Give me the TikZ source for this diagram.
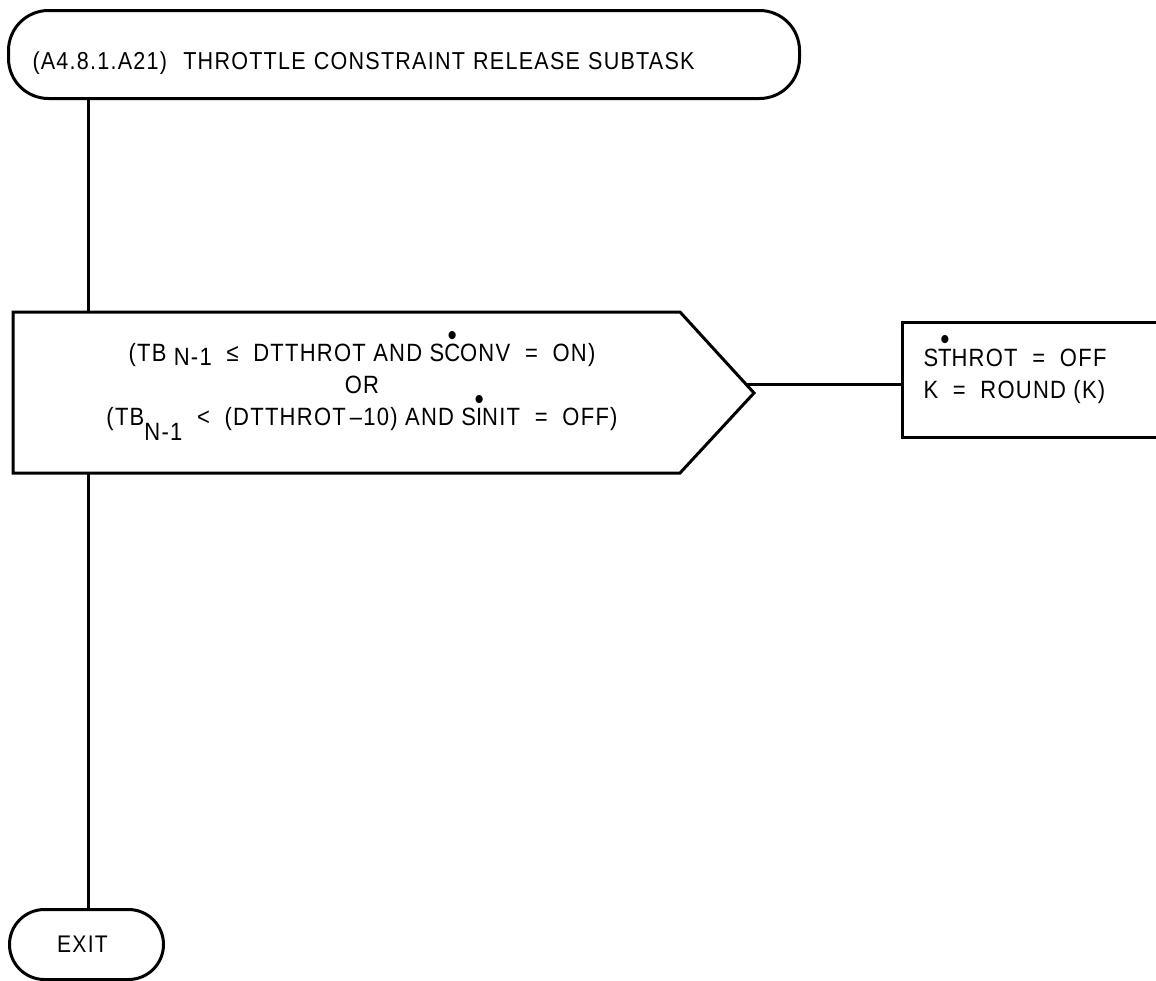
\documentclass[tikz,border=0pt]{standalone}
\usepackage{fontspec}
\setmainfont[LetterSpace=5, FakeStretch=0.88]{Liberation Sans}
\usetikzlibrary{calc, positioning}
\newcommand{\Sdot}[1]{%
    % #1 : letter after the S, carries the rate dot
    S\ooalign{#1\cr\hidewidth\raisebox{16.5pt}{\fontsize{30}{30}\selectfont\textbullet}\hidewidth\cr}%
}

\begin{document}
\begin{tikzpicture}[
        x=1pt, y=-1pt,
        line width=3pt,
        line join=miter,
        font=\fontsize{25}{32}\selectfont,
        terminal/.style={draw, anchor=north west, align=left},
    ]

    \def\spine{88}
    \def\xact{902}
    \def\yacttop{322}
    \def\yactbot{437}

    \useasboundingbox (0,0) rectangle (1156,980);

    % start
    \node[terminal, rounded corners=40pt, inner xsep=24pt, text width=743pt,
        minimum height=88pt, text height=30pt, text depth=0pt,
        font=\fontsize{24.5}{30}\selectfont]
        (title) at (7,9) {(A4.8.1.A21)\ \ THROTTLE CONSTRAINT RELEASE SUBTASK};

    % decision
    \coordinate (condtl) at (13,312);
    \coordinate (condtr) at (680,312);
    \coordinate (condtip) at (754,393);
    \coordinate (condbr) at (680,473);
    \coordinate (condbl) at (13,473);
    \draw (condtl) -- (condtr) -- (condtip) -- (condbr) -- (condbl) -- cycle;
    \node[align=center] (cond) at (362,392) {%
        (TB\ \raisebox{-4pt}{N-1}\ \ ≤\ \ DTTHROT AND \Sdot CONV\ \ =\ \ ON)\\
        OR\\
        (TB\raisebox{-15pt}{N-1}\ \ <\ \ (DTTHROT\,–10) AND \Sdot INIT\ \ =\ \ OFF)};

    % action
    \draw (1156,\yacttop) -- (\xact,\yacttop) -- (\xact,\yactbot) -- (1156,\yactbot);
    \node[anchor=west, align=left, inner xsep=20pt, inner ysep=0pt]
        (action) at (\xact,376) {\Sdot THROT\ \ =\ \ OFF\\K\ \ =\ \ ROUND (K)};

    % exit
    \node[terminal, rounded corners=35pt, minimum width=154pt, minimum height=70pt,
        align=center, font=\fontsize{24}{30}\selectfont] (exit) at (8,908) {EXIT\hspace*{8pt}};

    % flow
    \coordinate (spine) at (\spine,0);
    \draw (title.south -| spine) -- (condtl -| spine);
    \draw (condbl -| spine) -- (exit.north -| spine);
    \coordinate (condout) at ($(condtr)!0.89!(condtip)$);
    \draw (condout) -- (condout -| action.west);

\end{tikzpicture}
\end{document}
